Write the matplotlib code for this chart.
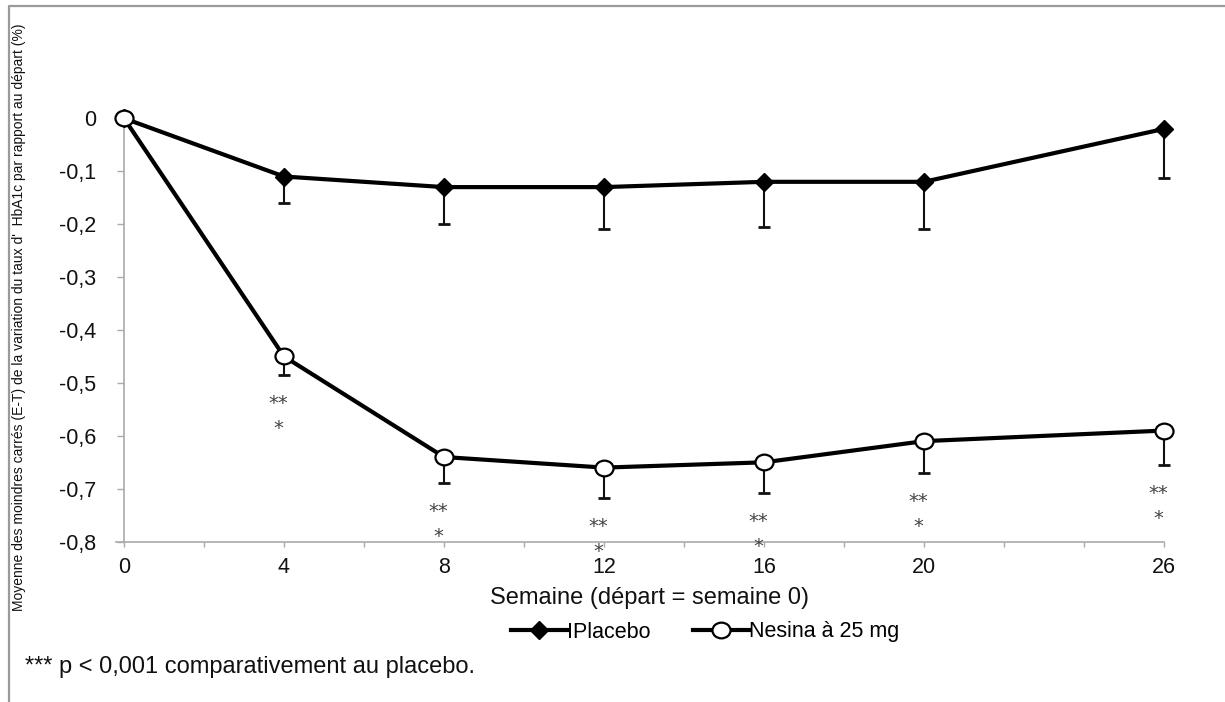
import matplotlib
matplotlib.use("Agg")
import matplotlib.pyplot as plt
from matplotlib.lines import Line2D
from matplotlib.path import Path
from matplotlib.transforms import Affine2D

plt.rcParams['font.family'] = ['Liberation Sans', 'DejaVu Sans']

# data
weeks = [0, 4, 8, 12, 16, 20, 26]
placebo = [0, -0.11, -0.13, -0.13, -0.12, -0.12, -0.02]
placebo_low = [0, -0.16, -0.20, -0.21, -0.205, -0.21, -0.112]
nesina = [0, -0.45, -0.64, -0.66, -0.65, -0.61, -0.59]
nesina_low = [0, -0.485, -0.69, -0.718, -0.708, -0.67, -0.655]
signif_weeks = [4, 8, 12, 16, 20, 26]

xtick_labels = ['0', '4', '8', '12', '16', '20', '26']
yticks = [0, -0.1, -0.2, -0.3, -0.4, -0.5, -0.6, -0.7, -0.8]
ytick_labels = ['0', '-0,1', '-0,2', '-0,3', '-0,4', '-0,5', '-0,6', '-0,7', '-0,8']

ylabel = "Moyenne des moindres carrés (E-T) de la variation du taux d'  HbA1c par rapport au départ (%)"
xlabel = "Semaine (départ = semaine 0)"
footnote = "*** p < 0,001 comparativement au placebo."

W, H = 1225, 702
fig = plt.figure(figsize=(W / 100, H / 100), dpi=100)
ax = fig.add_axes([116 / W, (H - 541.7) / H, 1048 / W, 423.4 / H])

# outer frame (cut at right and bottom)
fig.add_artist(Line2D([9 / W, 9 / W, 1], [0, 1 - 6 / H, 1 - 6 / H],
                      transform=fig.transFigure, color='#9a9a9a', lw=1.6))

ellipse = Path.unit_circle().transformed(Affine2D().scale(1.15, 1.0))

def lower_err(mean, low):
    return [[m - l for m, l in zip(mean, low)], [0] * len(mean)]

ax.errorbar(weeks[1:], placebo[1:], yerr=lower_err(placebo[1:], placebo_low[1:]),
            fmt='none', ecolor='#111111', elinewidth=1.5, capsize=4.5, capthick=2,
            zorder=2, clip_on=False)
ax.errorbar(weeks[1:], nesina[1:], yerr=lower_err(nesina[1:], nesina_low[1:]),
            fmt='none', ecolor='#111111', elinewidth=1.5, capsize=4.5, capthick=2,
            zorder=2, clip_on=False)

ax.plot(weeks, placebo, color='black', lw=3, marker='D', ms=9.5, mew=1,
        mfc='black', mec='black', label='IPlacebo', zorder=3, clip_on=False)
ax.plot(weeks, nesina, color='black', lw=3, marker=ellipse, ms=13, mew=1.6,
        mfc='white', mec='black', label='Nesina à 25 mg', zorder=4, clip_on=False)

# significance stars under the Nesina error bars
for wk in signif_weeks:
    low = nesina_low[weeks.index(wk)]
    ax.text(wk - 0.15, low - 0.064, '**', ha='center', va='baseline',
            fontsize=14, color='#444444', family='DejaVu Sans', clip_on=False)
    ax.text(wk - 0.15, low - 0.111, '*', ha='center', va='baseline',
            fontsize=14, color='#444444', family='DejaVu Sans', clip_on=False)

ax.set_xlim(-0.2, 26)
ax.set_ylim(-0.8, 0)
ax.set_xticks(weeks)
ax.set_xticklabels(xtick_labels)
ax.set_xticks([2, 6, 10, 14, 18, 22, 24], minor=True)
ax.set_yticks(yticks)
ax.set_yticklabels(ytick_labels)

for s in ['top', 'right']:
    ax.spines[s].set_visible(False)
ax.spines['left'].set_position(('data', 0))
for s in ['left', 'bottom']:
    ax.spines[s].set_color('#aaaaaa')
    ax.spines[s].set_linewidth(1.2)

ax.tick_params(axis='x', which='both', direction='out', length=3.5, width=1,
               color='#aaaaaa', pad=7.5, labelsize=15.5, labelcolor='#111111')
ax.tick_params(axis='y', direction='out', length=5, width=1, color='#aaaaaa',
               pad=15, labelsize=15.5, labelcolor='#111111')

fig.text(649 / W, 1 - 598 / H, xlabel, ha='center', va='center', fontsize=17,
         color='#111111')
fig.text(19 / W, 1 - 317 / H, ylabel, ha='center', va='center', rotation=90,
         fontsize=10, color='#111111')
fig.text(25 / W, 1 - 667 / H, footnote, ha='left', va='center', fontsize=17,
         color='#111111')

fig.legend(loc='center', bbox_to_anchor=(705 / W, 1 - 632 / H), ncol=2,
           frameon=False, fontsize=15.5, handlelength=2.6, handletextpad=0.0,
           columnspacing=2.0, numpoints=1)

fig.savefig('out.png', dpi=100)
